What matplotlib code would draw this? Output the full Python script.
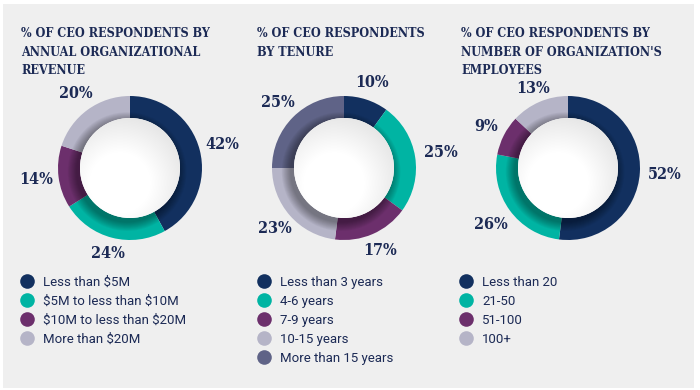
import matplotlib.pyplot as plt
import numpy as np
from matplotlib.lines import Line2D
from matplotlib.patches import Circle, Rectangle

# Chart data
revenue_labels = ["Less than \\$5M", "\\$5M to less than \\$10M",
                  "\\$10M to less than \\$20M", "More than \\$20M"]
revenue_values = [42, 24, 14, 20]

tenure_labels = ["Less than 3 years", "4-6 years", "7-9 years",
                 "10-15 years", "More than 15 years"]
tenure_values = [10, 25, 17, 23, 25]

employee_labels = ["Less than 20", "21-50", "51-100", "100+"]
employee_values = [52, 26, 9, 13]

titles = [
    "% OF CEO RESPONDENTS BY\nANNUAL ORGANIZATIONAL\nREVENUE",
    "% OF CEO RESPONDENTS\nBY TENURE",
    "% OF CEO RESPONDENTS BY\nNUMBER OF ORGANIZATION'S\nEMPLOYEES",
]

NAVY = "#12305f"
TEAL = "#00b4a3"
PURPLE = "#6c2f6c"
LIGHT = "#b5b4c7"
SLATE = "#5f6387"
TEXT = "#1c2a55"
BG = "#efefef"

colors_4 = [NAVY, TEAL, PURPLE, LIGHT]
colors_5 = [NAVY, TEAL, PURPLE, LIGHT, SLATE]

W, H = 700, 390
fig = plt.figure(figsize=(W / 100, H / 100), dpi=100)
fig.patch.set_facecolor("white")
fig.patches.append(Rectangle((3 / W, 2 / H), 691 / W, 384 / H,
                             transform=fig.transFigure, facecolor=BG,
                             edgecolor="none", zorder=-10))

R_PX = 72
BOX = 230
SERIF = dict(family="DejaVu Serif", fontstretch="condensed", fontweight="bold")


def draw_donut(cx, cy, values, colors, label_r):
    ax = fig.add_axes([(cx - BOX / 2) / W, (H - cy - BOX / 2) / H, BOX / W, BOX / H])
    _, texts = ax.pie(values, colors=colors, startangle=90, counterclock=False,
                      labels=[f"{v}%" for v in values], labeldistance=1.0,
                      textprops=dict(color=TEXT, fontsize=11.5, ha="center",
                                     va="center", **SERIF),
                      wedgeprops=dict(width=0.45, edgecolor="none"))
    # push each percentage out along its wedge's bisector
    for t, r in zip(texts, label_r):
        x, y = t.get_position()
        t.set_position((x * r, y * r))
    ax.set_axis_off()
    lim = BOX / 2 / R_PX
    ax.set_xlim(-lim, lim)
    ax.set_ylim(-lim, lim)
    ax.set_aspect("equal")
    # soft shadow of the raised inner disc, falling down-left
    r_in = 50 / 72
    for k in range(10):
        ax.add_patch(Circle((-0.04, -0.05), r_in + 0.13 - k * 0.013,
                            facecolor="black", alpha=0.04, edgecolor="none"))
    disc = Circle((0, 0), r_in, facecolor="white", edgecolor="none")
    ax.add_patch(disc)
    g = np.linspace(-1, 1, 200)
    gx, gy = np.meshgrid(g, g)
    shade = 1 - 0.13 * np.clip(np.hypot(gx + 0.2, gy + 0.3) - 0.6, 0, None)
    img = ax.imshow(shade, cmap="gray", vmin=0, vmax=1,
                    extent=(-r_in, r_in, -r_in, r_in), origin="lower",
                    interpolation="bilinear", zorder=3)
    img.set_clip_path(disc)


draw_donut(130, 168, revenue_values, colors_4, [1.32, 1.22, 1.31, 1.28])
draw_donut(344, 168, tenure_values, colors_5, [1.25, 1.36, 1.25, 1.28, 1.29])
draw_donut(568, 168, employee_values, colors_4, [1.34, 1.33, 1.27, 1.21])

title_x = [21, 257, 461]
for x, t in zip(title_x, titles):
    fig.text(x / W, 1 - 27 / H, t, ha="left", va="top", color=TEXT,
             fontsize=9.0, linespacing=1.55, **SERIF)

legend_sets = [(revenue_labels, colors_4, 20),
               (tenure_labels, colors_5, 257),
               (employee_labels, colors_4, 459)]
for labels, cols, x in legend_sets:
    handles = [Line2D([], [], marker="o", linestyle="none", markersize=10.5,
                      markerfacecolor=c, markeredgecolor="none") for c in cols]
    fig.legend(handles, labels, loc="upper left",
               bbox_to_anchor=(x / W, 1 - 276 / H), frameon=False,
               prop=dict(family="Roboto", size=9.5), labelcolor=TEXT,
               handlelength=1.0, handletextpad=0.75, labelspacing=0.45,
               borderpad=0, borderaxespad=0)

fig.savefig("out.png", dpi=100, facecolor=fig.get_facecolor())
